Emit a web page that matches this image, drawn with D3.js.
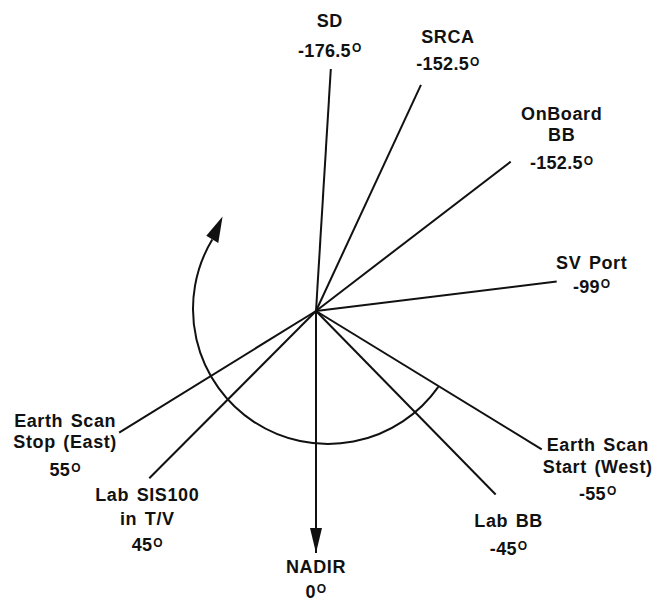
<!DOCTYPE html>
<html>
<head>
<meta charset="utf-8">
<script src="https://cdn.jsdelivr.net/npm/d3@7"></script>
<style>
  html, body { margin: 0; padding: 0; background: #fff; }
  svg { display: block; }
  text { font-family: "Liberation Sans", Arial, sans-serif; font-weight: bold; fill: #111; }
</style>
</head>
<body>
<svg id="chart" width="652" height="601"></svg>
<script>
// ---- data ----
const names = [["SD"], ["SRCA"], ["OnBoard", "BB"], ["SV Port"], ["Earth Scan", "Start (West)"],
               ["Lab BB"], ["NADIR"], ["Lab SIS100", "in T/V"], ["Earth Scan", "Stop (East)"]];
const angleLabels = ["-176.5", "-152.5", "-152.5", "-99", "-55", "-45", "0", "45", "55"];
// angle as drawn, degrees from nadir (positive toward the left/east side)
const drawnAngles = [-176.5, -155.1, -127.5, -97, -58.5, -44.4, 0, 44.9, 58.3];
// relative ray reach (nadir = 100)
const reach = [100.2, 103, 101.4, 100.2, 109.4, 106.1, 100, 97.6, 95.6];
// scan arc: from Earth Scan Start (West) sweeping past nadir and east, toward space
const scanArc = { startDeg: 35.2, endDeg: 211 };

// ---- layout ----
const W = 652, H = 601;
const cx = 316, cy = 311;
const arcCenter = { dx: 12, dy: -2, r: 135 };
const labelLayout = [
  { dx: -1, dy: -42, gap: 29.7 },
  { dx: 27, dy: -42, gap: 27.4 },
  { dx: 51, dy: -42, gap: 28.3 },
  { dx: 35, dy: -12, gap: 23.3 },
  { dx: 56, dy: 2, gap: 26.7 },
  { dx: 13, dy: 33, gap: 27.3 },
  { dx: 0, dy: 20, gap: 24.7 },
  { dx: -2, dy: 23, gap: 26.7, lineGap: 23.3 },
  { dx: -54, dy: -6, gap: 28.4 }
];

const svg = d3.select("#chart");
svg.append("rect").attr("width", W).attr("height", H).attr("fill", "#fff");

const rScale = d3.scaleLinear().domain([0, 100]).range([0, 242]);
const aScale = d3.scaleLinear().domain([0, 360]).range([0, 2 * Math.PI]);

const g = svg.append("g").attr("transform", `translate(${cx},${cy})`);

function endPoint(i) {
  const t = aScale(drawnAngles[i]);
  const r = rScale(reach[i]);
  return [-r * Math.sin(t), r * Math.cos(t)];
}

const nadirIdx = drawnAngles.indexOf(0);

// rays
g.selectAll("line.ray").data(drawnAngles).join("line")
  .attr("class", "ray")
  .attr("x1", 0).attr("y1", 0)
  .attr("x2", (d, i) => endPoint(i)[0])
  .attr("y2", (d, i) => endPoint(i)[1])
  .attr("stroke", "#111").attr("stroke-width", 2);

// nadir arrowhead
{
  const [ex, ey] = endPoint(nadirIdx);
  g.append("path")
    .attr("d", `M${ex},${ey} L${ex - 6},${ey - 25} L${ex + 6},${ey - 25} Z`)
    .attr("fill", "#111");
}

// scan arc
{
  const ac = g.append("g").attr("transform", `translate(${arcCenter.dx},${arcCenter.dy})`);
  const a0 = aScale(scanArc.startDeg), a1 = aScale(scanArc.endDeg);
  const p = d3.path();
  p.arc(0, 0, arcCenter.r, a0, a1, false);
  ac.append("path").attr("d", p.toString())
    .attr("fill", "none").attr("stroke", "#111").attr("stroke-width", 2);
  // arrowhead
  const bx = arcCenter.r * Math.cos(a1), by = arcCenter.r * Math.sin(a1);
  const tx = -Math.sin(a1), ty = Math.cos(a1);   // tangent (clockwise)
  const nx = Math.cos(a1), ny = Math.sin(a1);    // normal
  const L = 25, hw = 7;
  const tipX = bx + tx * L + nx * 3, tipY = by + ty * L + ny * 3;
  ac.append("path")
    .attr("d", `M${tipX},${tipY} L${bx + nx * hw},${by + ny * hw} L${bx - nx * hw},${by - ny * hw} Z`)
    .attr("fill", "#111");
}

// labels
names.forEach((lines, i) => {
  const [ex, ey] = endPoint(i);
  const lay = labelLayout[i];
  const x = ex + lay.dx, y0 = ey + lay.dy;
  const lg = lay.lineGap || 21.5;
  const t = g.append("text")
    .attr("text-anchor", "middle")
    .attr("font-size", 18)
    .attr("letter-spacing", 0.6)
    .attr("word-spacing", 2);
  lines.forEach((ln, k) => {
    t.append("tspan").attr("x", x).attr("y", y0 + k * lg).text(ln);
  });
  const yd = y0 + (lines.length - 1) * lg + lay.gap;
  const t2 = g.append("text")
    .attr("text-anchor", "middle")
    .attr("x", x).attr("y", yd)
    .attr("font-size", 18)
    .attr("letter-spacing", 0.3);
  t2.append("tspan").text(angleLabels[i]);
  t2.append("tspan").attr("font-size", 12).attr("dx", 1).attr("dy", -4.5).text("O");
});
</script>
</body>
</html>
